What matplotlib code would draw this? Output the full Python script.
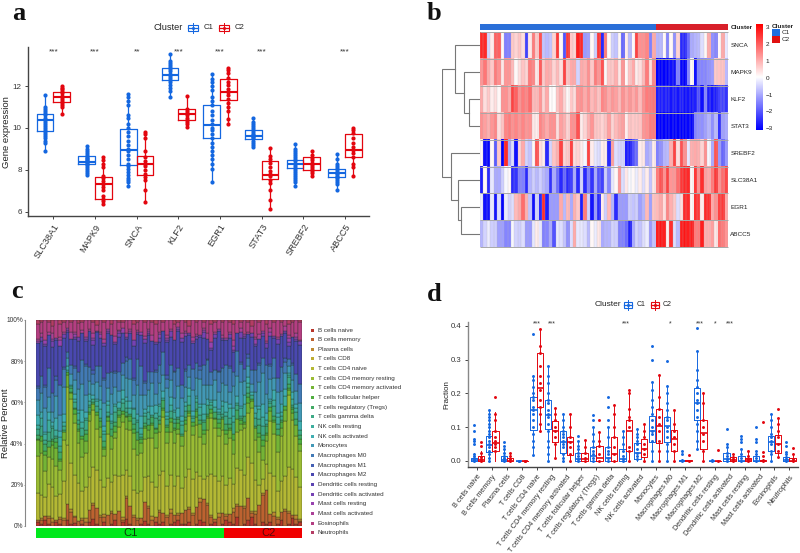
import numpy as np
import matplotlib
matplotlib.use('Agg')
import matplotlib.pyplot as plt
from matplotlib.colors import LinearSegmentedColormap, ListedColormap
from matplotlib.patches import Rectangle

plt.rcParams['font.family'] = ['Liberation Sans', 'DejaVu Sans']

W, H = 800, 553
BLUE = '#1467e0'
RED = '#e3060f'

# ---- panel a
a_genes = ['SLC38A1', 'MAPK9', 'SNCA', 'KLF2', 'EGR1', 'STAT3', 'SREBF2', 'ABCC5']
a_sig = ['***', '***', '**', '***', '***', '***', '', '***']
a_c1_q1 = [9.85, 8.26, 8.23, 12.27, 9.50, 9.45, 8.07, 7.65]
a_c1_med = [10.40, 8.38, 8.94, 12.53, 10.15, 9.63, 8.27, 7.83]
a_c1_q3 = [10.65, 8.64, 9.93, 12.89, 11.08, 9.90, 8.48, 8.03]
a_c1_lo = [8.90, 7.76, 7.22, 11.46, 7.40, 9.09, 7.24, 7.06]
a_c1_hi = [11.57, 9.13, 11.62, 13.54, 12.60, 10.46, 9.23, 8.77]
a_c2_q1 = [11.25, 6.62, 7.73, 10.40, 11.32, 7.57, 7.97, 8.60]
a_c2_med = [11.47, 7.30, 8.27, 10.69, 11.73, 7.75, 8.26, 8.94]
a_c2_q3 = [11.73, 7.64, 8.64, 10.89, 12.32, 8.40, 8.59, 9.71]
a_c2_lo = [10.66, 6.35, 6.44, 10.04, 10.17, 6.12, 7.72, 7.71]
a_c2_hi = [12.00, 8.62, 9.82, 11.54, 12.89, 9.02, 8.89, 10.00]
a_c1_pts = [
    [8.9, 9.3, 9.4, 9.5, 9.6, 9.7, 9.8, 9.9, 10.0, 10.1, 10.2, 10.3, 10.4, 10.5, 10.6, 10.7, 10.8, 10.9, 11.0, 11.57],
    [7.76, 7.85, 7.95, 8.05, 8.15, 8.25, 8.3, 8.35, 8.4, 8.45, 8.5, 8.55, 8.6, 8.7, 8.8, 8.9, 9.0, 9.13],
    [7.22, 7.4, 7.5, 7.6, 7.75, 7.9, 8.05, 8.2, 8.3, 8.5, 8.7, 8.9, 9.0, 9.2, 9.4, 9.6, 9.8, 10.0, 10.2, 10.5, 10.6, 11.1, 11.3, 11.5, 11.62],
    [11.46, 11.75, 11.9, 12.05, 12.2, 12.3, 12.4, 12.5, 12.6, 12.7, 12.8, 12.9, 13.0, 13.1, 13.2, 13.54],
    [7.4, 8.05, 8.3, 8.5, 8.7, 8.9, 9.1, 9.3, 9.5, 9.7, 9.9, 10.0, 10.2, 10.4, 10.6, 10.8, 11.1, 11.3, 11.5, 11.8, 12.0, 12.2, 12.35, 12.6],
    [9.09, 9.2, 9.3, 9.4, 9.5, 9.55, 9.6, 9.65, 9.7, 9.8, 9.9, 10.0, 10.1, 10.2, 10.3, 10.46],
    [7.24, 7.4, 7.5, 7.6, 7.7, 7.8, 7.9, 8.0, 8.1, 8.2, 8.3, 8.4, 8.5, 8.6, 8.7, 8.8, 8.9, 9.0, 9.23],
    [7.06, 7.3, 7.4, 7.5, 7.6, 7.65, 7.7, 7.8, 7.85, 7.9, 8.0, 8.1, 8.2, 8.3, 8.5, 8.77],
]
a_c2_pts = [
    [10.66, 11.0, 11.1, 11.2, 11.3, 11.4, 11.5, 11.55, 11.65, 11.75, 11.85, 11.92, 12.0],
    [6.35, 6.5, 6.6, 6.75, 7.05, 7.2, 7.3, 7.45, 7.6, 7.7, 8.15, 8.3, 8.45, 8.62],
    [6.44, 7.05, 7.5, 7.65, 7.8, 8.0, 8.2, 8.3, 8.4, 8.6, 8.9, 9.5, 9.7, 9.82],
    [10.04, 10.2, 10.3, 10.4, 10.5, 10.6, 10.7, 10.8, 10.9, 11.54],
    [10.17, 10.45, 10.8, 11.0, 11.2, 11.4, 11.6, 11.7, 11.85, 12.05, 12.2, 12.4, 12.65, 12.75, 12.89],
    [6.12, 6.58, 7.02, 7.35, 7.5, 7.7, 7.8, 7.95, 8.15, 8.35, 8.5, 8.65, 9.02],
    [7.72, 7.85, 7.95, 8.05, 8.15, 8.25, 8.35, 8.45, 8.55, 8.7, 8.89],
    [7.71, 8.15, 8.3, 8.6, 8.8, 8.95, 9.1, 9.3, 9.5, 9.75, 9.9, 10.0],
]

# ---- panel b
b_genes = ['SNCA', 'MAPK9', 'KLF2', 'STAT3', 'SREBF2', 'SLC38A1', 'EGR1', 'ABCC5']
b_snca = [2.5,2.5,-0.5,0.2,1.8,1.8,0.1,-1.5,-1.5,0.6, 0.5,0.7,0.4,-2.2,0.3,1.5,0.6,2.0,-0.7,-0.8, -0.7,0.5,2.3,0.1,-2.0,2.3,0.6,0.5,2.6,2.5, -1.2,-1.1,0.1,-0.6,2.3,-2.5,1.5,0.1,-0.6,-0.7, 0.1,-1.8,0.2,-0.8,0.1,2.2,1.3,1.3,1.4,-1.5, 1.0,
          -0.9,-0.8,0.1,-1.4,0.1,-1.3,0.5,-2.5,-2.5,-1.7, -1.0,-0.9,-0.8,-0.4,0.1,1.0,-1.3,-1.4,0.1,1.0, -0.3]
b_mapk9 = [1.2,1.6,1.0,0.6,1.5,1.3,0.3,1.2,1.2,0.8, 0.1,0.4,0.7,0.5,1.5,1.4,0.3,1.9,0.6,1.0, 0.9,0.5,0.8,0.4,2.2,0.7,1.0,1.0,-0.5,1.0, 0.9,1.3,0.6,1.5,1.2,2.0,0.1,0.7,0.6,0.9, 0.3,1.2,0.1,0.7,1.0,0.2,0.4,0.8,1.5,0.4, 1.4,
           -3,-3,-3,-3,-2.8,-2.8,-1.5,-2.9,-3,-1.4, 0.1,-2.8,-1.5,-1.4,-1.4,-1.3,-1.2,0.6,0.7,0.7, -0.8]
b_klf2 = [1.0,0.4,0.6,0.2,0.4,0.1,1.3,1.3,1.0,2.2, 1.8,1.3,1.5,1.4,1.7,0.8,0.8,1.2,0.5,1.0, 0.0,0.0,0.7,1.0,0.5,0.1,0.6,0.4,1.2,1.3, 1.0,1.3,0.8,1.0,0.7,1.4,1.3,1.0,1.2,1.1, 0.8,1.3,1.0,1.2,1.0,1.2,0.8,1.3,1.5,1.5, 1.6,
          -2.6,-2.6,-2.6,-2.6,-2.7,-2.6,-2.7,-2.6,-2.8,-2.7, -2.7,-2.6,-2.0,-2.8,-1.4,-2.6,-2.7,-2.6,-2.2,-2.2, -2.4]
b_stat3 = [1.3,1.1,0.9,1.2,1.4,0.4,0.7,1.4,1.5,1.3, 1.4,1.2,1.4,1.2,1.3,0.3,0.2,1.4,1.2,1.0, 1.3,1.3,0.4,1.1,0.9,0.5,1.3,1.3,2.0,0.2, 0.5,0.9,1.2,0.7,0.6,0.5,0.7,1.1,0.5,0.8, 1.0,1.1,0.2,0.7,0.6,0.6,0.7,1.2,1.3,1.5, 1.5,
           -3,-3,-3,-3,-3,-3,-3,-3,-3,-2.9, -2.9,-1.4,-1.3,-1.3,-1.1,-0.9,-1.3,-0.8,-2.4,-1.1, -1.0]
b_srebf2 = [0.1,-2.8,-2.9,0.1,-1.9,0.6,-3,2.5,-1.0,-0.4, -2.8,0.5,1.0,-0.5,-0.7,0.1,2.0,0.4,0.2,-2.5, -0.5,0.7,0.9,2.2,0.5,0.6,2.2,0.4,0.5,0.2, -0.1,2.2,0.2,-0.3,-0.4,0.2,0.2,-2.5,1.1,-0.4, -0.5,-0.5,-2.6,-2.6,-2.0,-1.7,0.2,0.3,-1.0,-0.8, 0.2,
            -1.5,-1.3,-0.9,-0.8,0.9,2.2,0.4,2.0,1.3,-0.3, 0.9,1.0,0.9,0.5,1.3,-0.1,-1.0,2.0,-1.2,-1.8, -1.2]
b_slc38a1 = [-2.6,0.1,-2.5,-0.3,-1.0,-1.0,-0.6,-0.1,0.1,-2.5, -2.4,-1.5,-1.5,-2.5,-0.9,-0.6,-0.8,-0.6,-0.8,-1.0, -2.4,-1.0,-1.7,-2.5,-1.8,-2.5,-2.2,-1.0,-2.5,-0.5, -2.5,-1.5,-2.4,-1.0,-2.0,-2.2,-0.6,-1.4,-0.3,0.1, 1.2,-0.4,0.3,-0.1,0.1,-0.2,0.2,-0.4,0.2,-0.7, 0.3,
             1.5,2.0,1.3,2.2,1.2,1.2,1.7,2.3,2.5,2.5, 0.1,2.3,1.3,2.4,1.1,1.0,1.5,2.3,1.3,1.7, 2.1]
b_egr1 = [-0.2,-2.8,-2.8,-0.3,-2.7,-0.4,-2.9,-0.2,-0.5,-0.4, 0.8,1.0,1.7,0.9,-0.7,-2.8,-0.5,-2.5,2.4,-2.6, -1.2,-1.2,-1.2,1.0,-0.8,0.8,-1.0,0.9,0.6,-2.6, 1.5,-0.5,-2.7,-1.2,-2.5,0.2,-0.6,0.8,-0.9,-2.5, -1.2,-1.2,-1.2,-0.6,-0.7,-0.6,-1.1,-0.9,0.8,-1.1, 0.7,
          0.8,1.0,0.4,1.4,0.9,0.6,-0.4,0.4,2.5,2.5, 0.1,2.4,2.3,0.2,2.5,2.4,1.0,1.3,2.2,2.3, 1.0]
b_abcc5 = [-0.9,-0.5,-0.2,-0.6,-0.6,-1.1,-1.1,-1.4,-1.4,-0.1, -0.5,-0.6,-0.4,-1.2,-1.2,-0.3,0.2,-0.3,-1.5,-1.4, -1.0,-2.0,-0.3,-0.4,-0.7,-1.3,-0.4,1.0,-0.3,-0.3, -0.4,-0.8,0.1,-0.2,0.3,-1.0,-0.9,-0.9,-0.5,-0.6, -1.5,-1.5,-1.7,-2.6,-1.0,-0.5,-0.7,-0.4,-0.2,-1.2, -0.7,
           2.6,2.7,2.6,0.2,2.4,-0.4,-0.8,2.6,2.7,2.6, 2.6,1.5,1.5,2.6,0.9,0.9,1.1,0.3,1.7,1.5, 1.2]
n_c1 = 51
n_c2 = 21
# merges: (child, child, height), children < 0 are leaves as -(row+1), others earlier merges
b_merges = [(-3, -4, 0.283), (-2, 0, 0.416), (-1, 1, 0.664),
            (-7, -8, 0.513), (-6, 3, 0.575), (-5, 4, 0.752), (2, 5, 1.0)]

# ---- panel c
cell_types = ['B cells naive', 'B cells memory', 'Plasma cells', 'T cells CD8', 'T cells CD4 naive',
              'T cells CD4 memory resting', 'T cells CD4 memory activated', 'T cells follicular helper',
              'T cells regulatory (Tregs)', 'T cells gamma delta', 'NK cells resting', 'NK cells activated',
              'Monocytes', 'Macrophages M0', 'Macrophages M1', 'Macrophages M2', 'Dendritic cells resting',
              'Dendritic cells activated', 'Mast cells resting', 'Mast cells activated', 'Eosinophils', 'Neutrophils']
c_colors = ['#b8352a', '#bd6230', '#bd8830', '#bdac30', '#b4b834', '#9bbc34', '#74b436', '#50ae40',
            '#42aa64', '#3eaa86', '#3eae9e', '#40aeb2', '#4298b6', '#427ab6', '#4460b4', '#4a48b0',
            '#5c44b2', '#7642b4', '#9842b0', '#ac4098', '#b43e82', '#b43c64']
c_bn = [2,1,3,1,0,2,1,0,3,1, 2,0,1,0,2,4,1,0,2,0, 1,3,0,2,4,1,0,0,1,3, 1,0,2,1,2,0,1,2,3,1, 1,2,0,1,3,2,0,1,2,0, 1, 3,2,1,4,0,1,3,5,1, 0,2,1,2,0,1,3,0,1,4, 1,2]
c_bm = [1,2,2,3,2,1,3,3,8,7, 3,3,2,2,7,8,9,5,3,6, 6,3,8,1,11,10,5,3,3,11, 9,3,3,6,4,5,6,4,3,6, 8,7,6,9,10,12,11,4,2,5, 6, 2,4,6,5,10,8,11,2,6, 11,12,16,4,5,3,4,7,5,2, 3,1]
c_pl = [0,1,0,1,2,0,1,1,0,2, 1,0,1,2,0,1,0,1,2,0, 1,0,0,2,1,0,1,1,0,0, 1,2,0,1,0,1,2,0,1,0, 0,1,1,0,2,0,1,1,0,2, 0, 1,0,2,1,0,1,0,1,2, 0,1,0,0,2,1,0,1,1,0, 2,1]
c_cd8 = [0] * 72
c_naive = [14,12,10,15,16,12,12,18,30,26, 24,22,14,16,18,20,22,20,15,20, 16,20,18,22,14,16,14,12,14,14, 16,18,16,18,20,16,18,16,20,14, 18,20,18,18,12,10,14,22,24,18, 20, 14,18,12,16,18,16,20,26,18, 10,6,12,20,18,14,16,16,20,24, 20,18]
c_mem = [19,22,13,13,15,15,13,20,29,37, 30,23,18,18,31,32,23,24,18,24, 18,19,26,28,22,25,22,19,20,22, 21,23,21,22,26,23,23,24,23,23, 25,28,23,24,21,18,24,30,27,25, 25, 20,20,15,16,20,24,22,30,23, 17,9,11,26,21,21,23,26,33,26, 22,20]
c_act = [8,6,8,5,7,9,5,4,6,3, 5,7,9,6,4,3,8,6,4,7, 7,3,5,4,6,5,9,7,5,6, 4,7,8,4,3,6,5,7,3,6, 4,2,5,4,7,5,6,3,5,4, 6, 5,4,7,6,3,2,5,4,7, 8,6,3,5,6,9,4,5,2,4, 6,4]
c_fol = [1,3,2,0,2,3,1,0,2,1, 3,1,2,4,1,0,2,3,1,2, 0,3,1,2,1,3,2,0,2,1, 3,1,2,0,1,3,2,1,3,0, 2,1,2,3,0,2,1,2,1,3, 0, 2,1,3,0,2,1,3,1,0, 2,3,1,2,1,0,3,2,1,2, 0,3]
c_treg = [2,0,4,3,1,2,4,1,0,2, 1,3,0,2,3,1,0,2,3,1, 4,2,3,0,2,1,3,4,1,2, 0,3,1,2,4,1,0,3,2,1, 2,3,0,1,2,4,1,0,3,2, 1, 3,2,0,4,1,3,2,0,1, 4,2,3,0,2,3,1,0,2,1, 3,2]
c_gam = [3,5,2,4,6,1,3,2,0,1, 3,2,4,5,1,2,3,0,4,2, 3,5,1,4,2,0,3,5,2,4, 3,1,5,2,0,3,4,2,1,5, 3,0,2,4,3,1,5,2,0,3, 2, 4,3,6,2,1,0,3,2,5, 3,4,1,2,5,3,2,0,3,1, 4,3]
c_nkr = [2,4,3,6,1,3,5,2,1,0, 2,4,3,1,2,0,3,5,2,4, 1,3,0,2,4,3,5,1,3,2, 4,0,3,5,1,2,3,4,0,2, 3,5,1,2,4,3,0,2,3,1, 4, 2,5,3,1,4,6,2,0,3, 5,4,2,1,3,4,2,5,1,3, 2,0]
c_nka = [5,3,1,4,2,6,3,4,2,1, 3,2,6,3,4,2,1,5,3,2, 4,1,3,5,2,4,1,3,6,2, 3,5,4,1,3,2,4,1,5,3, 2,4,3,1,2,5,3,1,4,2, 3, 5,2,4,3,1,5,3,2,4, 2,6,3,1,5,2,4,3,1,4, 2,5]
c_mono = [8,10,12,7,5,11,9,13,4,6, 8,12,14,9,7,6,10,8,13,7, 11,9,6,8,10,12,7,14,11,8, 9,12,6,11,8,13,9,7,12,10, 8,6,11,9,13,10,7,8,11,9, 10, 8,6,11,9,12,7,5,4,8, 12,14,9,10,6,11,7,8,3,6, 7,10]
c_m0 = [6,9,11,14,10,8,16,9,3,5, 7,10,12,15,8,6,9,11,13,8, 12,7,10,6,9,11,8,13,15,7, 10,6,12,9,11,5,8,14,10,7, 9,6,11,8,5,10,13,7,6,11, 8, 10,12,7,11,9,6,4,8,13, 9,7,14,6,10,8,12,5,3,8, 9,11]
c_m1 = [1,0,1,0,0,2,0,1,0,0, 1,0,0,1,0,2,0,0,1,0, 0,1,0,0,2,0,1,0,0,1, 0,0,1,0,0,2,0,1,0,0, 1,0,0,0,2,0,1,0,0,1, 0, 0,1,0,0,1,0,2,0,0, 1,0,0,1,0,0,0,2,0,1, 0,0]
c_m2 = [22,18,20,16,24,18,21,14,10,15, 16,18,14,12,20,14,19,16,18,22, 20,14,18,16,10,14,18,12,16,22, 20,16,14,12,10,18,15,17,20,24, 18,16,14,12,16,14,10,12,18,22, 15, 12,14,10,8,12,16,10,18,14, 12,10,8,14,10,18,16,12,6,14, 18,22]
c_dcr = [0] * 72
c_dca = [0,2,1,0,3,1,0,2,1,0, 1,2,0,1,0,3,1,0,2,1, 0,1,2,0,1,0,3,1,0,2, 1,0,1,2,0,1,3,0,1,2, 0,1,0,2,1,3,0,1,2,0, 1, 0,2,1,0,3,1,0,2,1, 0,1,2,0,1,3,0,1,2,0, 1,2]
c_mr = [1,0,2,0,1,0,3,0,1,0, 2,0,0,1,0,1,0,2,0,1, 0,0,1,3,0,1,0,0,2,0, 1,0,0,2,0,1,0,0,1,0, 2,0,1,0,0,1,0,3,0,1, 0, 1,0,2,0,0,1,0,0,3, 0,1,0,2,0,0,1,0,2,0, 1,0]
c_ma = [1,2,0,1,3,0,2,1,0,4, 1,0,2,0,1,3,0,1,2,0, 0,3,1,0,2,1,0,1,0,2, 1,3,0,1,0,2,1,0,0,3, 1,0,2,1,0,1,3,0,1,0, 2, 0,1,3,0,2,0,1,0,1, 3,0,1,2,0,1,0,2,1,0, 2,1]
c_eos = [8,6,10,5,4,9,7,5,4,6, 7,8,4,9,5,6,3,7,10,5, 6,8,4,3,7,5,9,4,6,8, 5,7,10,6,4,8,5,9,3,7, 5,4,9,6,8,3,7,10,6,5, 7, 9,5,8,6,3,7,5,4,10, 6,5,8,4,7,9,6,3,5,8, 7,10]
c_neu = [2,1,0,1,3,0,2,1,0,1, 0,2,1,0,0,1,3,0,1,0, 2,0,1,1,0,0,2,1,0,1, 0,1,2,0,1,0,0,2,1,0, 1,3,0,1,0,1,0,2,1,0, 1, 0,1,2,0,1,0,1,3,0, 1,0,2,0,1,0,1,0,2,1, 0,1]

# ---- panel d
d_sig = ['', '', '', '', '***', '***', '', '', '', '', '***', '', '', '*', '', '***', '*', '***', '', '', '', '']
d_c1_q1 = [0, .027, 0, 0, .093, .095, .025, 0, 0, 0, 0, .005, .055, .055, 0, .12, 0, 0, 0, 0, .03, 0]
d_c1_med = [.002, .046, .002, 0, .15, .135, .057, .005, .015, .01, .005, .025, .09, .103, 0, .17, 0, .005, 0, 0, .057, .003]
d_c1_q3 = [.01, .075, .015, 0, .188, .18, .09, .025, .04, .04, .035, .052, .133, .13, .002, .215, .001, .025, .015, .015, .073, .012]
d_c1_hi = [.025, .15, .035, .001, .255, .28, .14, .06, .10, .10, .088, .095, .235, .222, .005, .325, .002, .05, .035, .03, .14, .028]
d_c1_lo = [0, 0, 0, 0, .018, 0, 0, 0, 0, 0, 0, 0, 0, 0, 0, .035, 0, 0, 0, 0, 0, 0]
d_c2_q1 = [0, .03, 0, 0, .16, .056, .018, 0, 0, 0, .03, .012, .053, .03, 0, .035, 0, 0, 0, 0, .025, 0]
d_c2_med = [.003, .052, .001, 0, .215, .09, .055, .005, .01, .02, .09, .035, .103, .065, 0, .083, 0, .002, .002, 0, .05, .001]
d_c2_q3 = [.014, .09, .008, 0, .318, .118, .07, .025, .045, .07, .12, .065, .153, .093, .002, .12, .001, .012, .01, .003, .078, .008]
d_c2_hi = [.03, .145, .025, .001, .39, .158, .14, .063, .085, .165, .21, .11, .255, .15, .004, .20, .002, .02, .03, .006, .128, .02]
d_c2_lo = [0, 0, 0, 0, .088, .01, 0, 0, 0, 0, 0, 0, 0, 0, 0, 0, 0, 0, 0, 0, .012, 0]
d_c1_pts = [
    [0, .003, .008, .015, .022, .05, .06, .065, .09, .105],
    [0, .01, .02, .03, .04, .05, .06, .07, .08, .09, .10, .11, .12, .13, .14, .15],
    [0, .003, .008, .015, .025, .035, .045, .055],
    [0, .001],
    [.018, .04, .06, .08, .10, .12, .14, .15, .16, .18, .19, .20, .22, .24, .25, .375],
    [0, .02, .04, .06, .09, .11, .13, .14, .15, .17, .18, .20, .23, .25, .28],
    [0, .01, .02, .04, .05, .06, .07, .08, .09, .10, .12, .14],
    [0, .005, .015, .025, .035, .045, .06, .075],
    [0, .01, .02, .03, .04, .06, .08, .10, .12, .135],
    [0, .01, .02, .03, .04, .07, .10, .12, .16, .19],
    [0, .005, .015, .03, .05, .07, .088],
    [.005, .015, .025, .035, .05, .06, .07, .08, .095],
    [0, .03, .06, .08, .09, .10, .12, .14, .16, .18, .21, .235, .30, .34],
    [0, .03, .05, .07, .09, .10, .12, .13, .15, .17, .20, .222, .295],
    [0, .003, .02, .03],
    [.035, .06, .09, .11, .13, .15, .17, .18, .20, .22, .24, .27, .325, .393],
    [0, .002],
    [0, .005, .015, .025, .04, .05, .095],
    [0, .01, .02, .035, .055, .065, .075],
    [0, .01, .02, .03, .055, .065, .10],
    [0, .02, .03, .05, .06, .07, .08, .10, .12, .14],
    [0, .005, .012, .02, .028, .045, .055],
]
d_c2_pts = [
    [0, .005, .012, .025, .045, .055],
    [.03, .04, .05, .06, .07, .09, .12, .14, .19],
    [0, .005, .015, .025],
    [0, .001],
    [.088, .11, .14, .16, .18, .21, .23, .25, .28, .32, .34, .39],
    [.01, .05, .07, .09, .10, .12, .14, .158],
    [0, .02, .04, .055, .07, .10, .14],
    [0, .01, .025, .04, .063],
    [0, .02, .045, .06, .085, .12],
    [0, .02, .04, .07, .10, .14, .165],
    [0, .03, .04, .10, .12, .13, .155, .20, .21],
    [0, .02, .035, .05, .07, .09, .11],
    [0, .03, .06, .09, .11, .13, .155, .19, .255],
    [0, .03, .05, .07, .09, .11, .15],
    [0, .018],
    [0, .03, .06, .08, .10, .12, .17, .20],
    [0, .033],
    [0, .005, .012, .02],
    [0, .005, .015, .03],
    [0, .003, .015, .027, .115],
    [.012, .03, .05, .07, .09, .11, .128, .155],
    [0, .005, .02, .037],
]


def add_ax(left, top, right, bottom, **kw):
    return fig.add_axes([left / W, 1 - bottom / H, (right - left) / W, (bottom - top) / H], **kw)


def draw_boxes(ax, q1, med, q3, lo, hi, pts, color, offset, width, ms, lw):
    stats = [{'q1': q1[i], 'med': med[i], 'q3': q3[i], 'whislo': lo[i], 'whishi': hi[i], 'fliers': []}
             for i in range(len(q1))]
    pos = np.arange(len(q1)) + offset
    ax.bxp(stats, positions=pos, widths=width, showcaps=False, showfliers=False, manage_ticks=False,
           boxprops=dict(color=color, linewidth=lw), whiskerprops=dict(color=color, linewidth=lw),
           medianprops=dict(color=color, linewidth=lw * 1.7, solid_capstyle='butt'))
    for p, vals in zip(pos, pts):
        ax.scatter([p] * len(vals), vals, s=ms, color=color, linewidths=0, zorder=3)


def style_axes(ax):
    for s in ['top', 'right']:
        ax.spines[s].set_visible(False)
    for s in ['left', 'bottom']:
        ax.spines[s].set_color('#444444')
        ax.spines[s].set_linewidth(1.0)
    ax.tick_params(color='#444444', length=2.5, width=0.7, pad=2)


def legend_key(x, y, color, w, h):
    over.add_patch(Rectangle((x - w / 2, y - h / 2), w, h, fill=False, ec=color, lw=0.8))
    over.plot([x, x], [y - h / 2 - 2, y + h / 2 + 2], color=color, lw=0.7)
    over.plot([x - w / 2, x + w / 2], [y, y], color=color, lw=0.9)
    over.scatter([x], [y], s=5, color=color, linewidths=0, zorder=3)


fig = plt.figure(figsize=(W / 100, H / 100), dpi=100)
fig.patch.set_facecolor('white')

# panel a
ax = add_ax(28, 47, 369, 216.3)
draw_boxes(ax, a_c1_q1, a_c1_med, a_c1_q3, a_c1_lo, a_c1_hi, a_c1_pts, BLUE, -0.2, 0.4, 9, 0.9)
draw_boxes(ax, a_c2_q1, a_c2_med, a_c2_q3, a_c2_lo, a_c2_hi, a_c2_pts, RED, 0.2, 0.4, 9, 0.9)
ax.set_xlim(-0.61, 7.58)
ax.set_ylim(5.78, 13.87)
ax.set_xticks(range(len(a_genes)))
ax.set_xticklabels(a_genes, rotation=58, ha='right', rotation_mode='anchor', fontsize=6.6, color='#333333')
ax.set_yticks([6, 8, 10, 12])
ax.tick_params(axis='y', labelsize=5.8, labelcolor='#333333')
ax.set_ylabel('Gene expression', fontsize=6.8, color='#222222')
ax.yaxis.set_label_coords(-0.05, 0.5)
for i, s in enumerate(a_sig):
    ax.text(i, 13.62, s, ha='center', va='center', fontsize=6, color='#333333')
style_axes(ax)

# panel b
b_data = np.array([b_snca, b_mapk9, b_klf2, b_stat3, b_srebf2, b_slc38a1, b_egr1, b_abcc5])
cmap = LinearSegmentedColormap.from_list('bwr2', ['#0000ff', '#ffffff', '#ff0000'], N=100)
ax = add_ax(480, 32, 727.7, 247.3)
ax.imshow(b_data, cmap=cmap, vmin=-3, vmax=3, aspect='auto', interpolation='nearest', extent=[0, 72, 8, 0])
ax.vlines(range(73), 0, 8, color='#b8b8b8', lw=0.2)
ax.hlines(range(9), 0, 72, color='#a8a8a8', lw=0.7, clip_on=False)
ax.set_ylim(8, 0)
ax.set_xticks([])
ax.set_yticks(np.arange(8) + 0.5)
ax.set_yticklabels(b_genes, fontsize=4.6, color='#222222')
ax.yaxis.tick_right()
ax.tick_params(axis='y', length=0, pad=2)
for s in ax.spines.values():
    s.set_visible(False)

ax = add_ax(480, 24, 727.7, 30)
ax.imshow(np.array([[0] * n_c1 + [1] * n_c2]), cmap=ListedColormap(['#2a6fd8', '#d8202a']), aspect='auto',
          interpolation='nearest', extent=[0, 72, 0, 1])
ax.set_xticks([])
ax.set_yticks([0.5])
ax.set_yticklabels(['Cluster'], fontsize=4.6, fontweight='bold', color='#222222')
ax.yaxis.tick_right()
ax.tick_params(axis='y', length=0, pad=2)
for s in ax.spines.values():
    s.set_visible(False)

# dendrogram from the merge table
ax = add_ax(442, 32, 480, 247.3)
node_y = []
node_h = []


def child_pos(c):
    if c < 0:
        return -c - 0.5, 0.0
    return node_y[c], node_h[c]


for c1, c2, h in b_merges:
    y1, h1 = child_pos(c1)
    y2, h2 = child_pos(c2)
    ax.plot([h1, h, h, h2], [y1, y1, y2, y2], color='#777777', lw=0.8, solid_joinstyle='miter')
    node_y.append((y1 + y2) / 2)
    node_h.append(h)
ax.set_xlim(1.0, 0)
ax.set_ylim(8, 0)
ax.axis('off')

# colour bar
ax = add_ax(756, 24, 763, 130)
ax.imshow(np.linspace(3, -3, 100).reshape(-1, 1), cmap=cmap, vmin=-3, vmax=3, aspect='auto', extent=[0, 1, -3.1, 3.2])
ax.set_xticks([])
ax.set_yticks([3, 2, 1, 0, -1, -2, -3])
ax.yaxis.tick_right()
ax.tick_params(axis='y', length=0, pad=2, labelsize=4.6, labelcolor='#222222')
for s in ax.spines.values():
    s.set_visible(False)

# panel c
c_layers = [c_bn, c_bm, c_pl, c_cd8, c_naive, c_mem, c_act, c_fol, c_treg, c_gam, c_nkr, c_nka,
            c_mono, c_m0, c_m1, c_m2, c_dcr, c_dca, c_mr, c_ma, c_eos, c_neu]
c_arr = np.array(c_layers, dtype=float)
c_pct = c_arr / c_arr.sum(axis=0) * 100
ax = add_ax(36, 320, 301.7, 526)
ax.spines['left'].set_position(('outward', 8))  # this resets the ticks, so it goes first
bottom = np.zeros(c_pct.shape[1])
for row, col in zip(c_pct, c_colors):
    keep = row > 0
    ax.bar(np.arange(len(row))[keep], row[keep], bottom=bottom[keep], width=1.0, color=col,
           edgecolor='#20301e', linewidth=0.25)
    bottom += row
ax.set_xlim(-0.5, 71.5)
ax.set_ylim(0, 100)
ax.set_xticks([])
ax.set_yticks([0, 20, 40, 60, 80, 100])
ax.set_yticklabels(['0%', '20%', '40%', '60%', '80%', '100%'], fontsize=4.8, color='#333333')
ax.tick_params(axis='y', length=1, width=0.6, color='#888888', pad=0)
ax.spines['left'].set_color('#888888')
for s in ['top', 'right', 'bottom']:
    ax.spines[s].set_visible(False)
ax.set_ylabel('Relative Percent', fontsize=6.8, color='#222222')
ax.yaxis.set_label_coords(-0.098, 0.5)

ax = add_ax(36, 528, 301.7, 538.3)
ax.barh([0, 0], [n_c1, n_c2], left=[0, n_c1], height=1.0, color=['#00e81c', '#f00000'])
ax.set_xlim(0, n_c1 + n_c2)
ax.set_ylim(-0.5, 0.5)
ax.text(n_c1 / 2, -0.02, 'C1', ha='center', va='center', fontsize=8, color='#0a3a0a')
ax.text(n_c1 + n_c2 / 2 + 1.5, -0.02, 'C2', ha='center', va='center', fontsize=8, color='#5a0a0a')
ax.axis('off')

# panel d
ax = add_ax(468, 322, 798, 467)
draw_boxes(ax, d_c1_q1, d_c1_med, d_c1_q3, d_c1_lo, d_c1_hi, d_c1_pts, BLUE, -0.22, 0.42, 4.5, 0.7)
draw_boxes(ax, d_c2_q1, d_c2_med, d_c2_q3, d_c2_lo, d_c2_hi, d_c2_pts, RED, 0.22, 0.42, 4.5, 0.7)
ax.set_xlim(-0.63, 21.59)
ax.set_ylim(-0.0178, 0.411)
ax.set_xticks(range(len(cell_types)))
ax.set_xticklabels(cell_types, rotation=52, ha='right', rotation_mode='anchor', fontsize=5.2, color='#333333')
ax.set_yticks([0, 0.1, 0.2, 0.3, 0.4])
ax.set_yticklabels(['0.0', '0.1', '0.2', '0.3', '0.4'], fontsize=5.6, color='#333333')
ax.set_ylabel('Fraction', fontsize=5.8, color='#222222')
ax.yaxis.set_label_coords(-0.052, 0.5)
for i, s in enumerate(d_sig):
    ax.text(i, 0.404, s, ha='center', va='center', fontsize=5, color='#333333')
style_axes(ax)
ax.spines['left'].set_color('#888888')

# overlay in pixel units for legends and panel letters
over = fig.add_axes([0, 0, 1, 1], facecolor='none')
over.set_xlim(0, W)
over.set_ylim(H, 0)
over.axis('off')

for x, y, s in [(12, 20, 'a'), (427, 20, 'b'), (11, 298, 'c'), (427, 301, 'd')]:
    over.text(x, y, s, fontsize=19, fontweight='bold', family='Liberation Serif', va='baseline', color='#111111')

over.text(153.5, 27.5, 'Cluster', fontsize=6.6, va='center', color='#222222')
legend_key(192.5, 27.5, BLUE, 10, 6)
over.text(204, 27.5, 'C1', fontsize=5.6, va='center', color='#222222')
legend_key(223.5, 27.5, RED, 10, 6)
over.text(234.5, 27.5, 'C2', fontsize=5.6, va='center', color='#222222')

over.text(595, 304.5, 'Cluster', fontsize=6, va='center', color='#222222')
legend_key(628, 304.5, BLUE, 8, 6)
over.text(637, 304.5, 'C1', fontsize=5, va='center', color='#222222')
legend_key(654.5, 304.5, RED, 8, 6)
over.text(663, 304.5, 'C2', fontsize=5, va='center', color='#222222')

over.text(772, 26, 'Cluster', fontsize=4.6, fontweight='bold', va='center', color='#222222')
over.add_patch(Rectangle((772, 29.3), 8, 6.7, fc='#1f6fe0', ec='none'))
over.add_patch(Rectangle((772, 36), 8, 6.7, fc='#e01010', ec='none'))
over.text(782, 32.6, 'C1', fontsize=4.6, va='center', color='#222222')
over.text(782, 39.4, 'C2', fontsize=4.6, va='center', color='#222222')

for i, (name, col) in enumerate(zip(cell_types, c_colors)):
    y = 330 + i * 9.65
    over.add_patch(Rectangle((310.5, y - 1.5), 3, 3, fc=col, ec='none'))
    over.text(317.7, y, name, fontsize=4.5, va='center', color='#333333')

fig.savefig('out.png', dpi=100)
